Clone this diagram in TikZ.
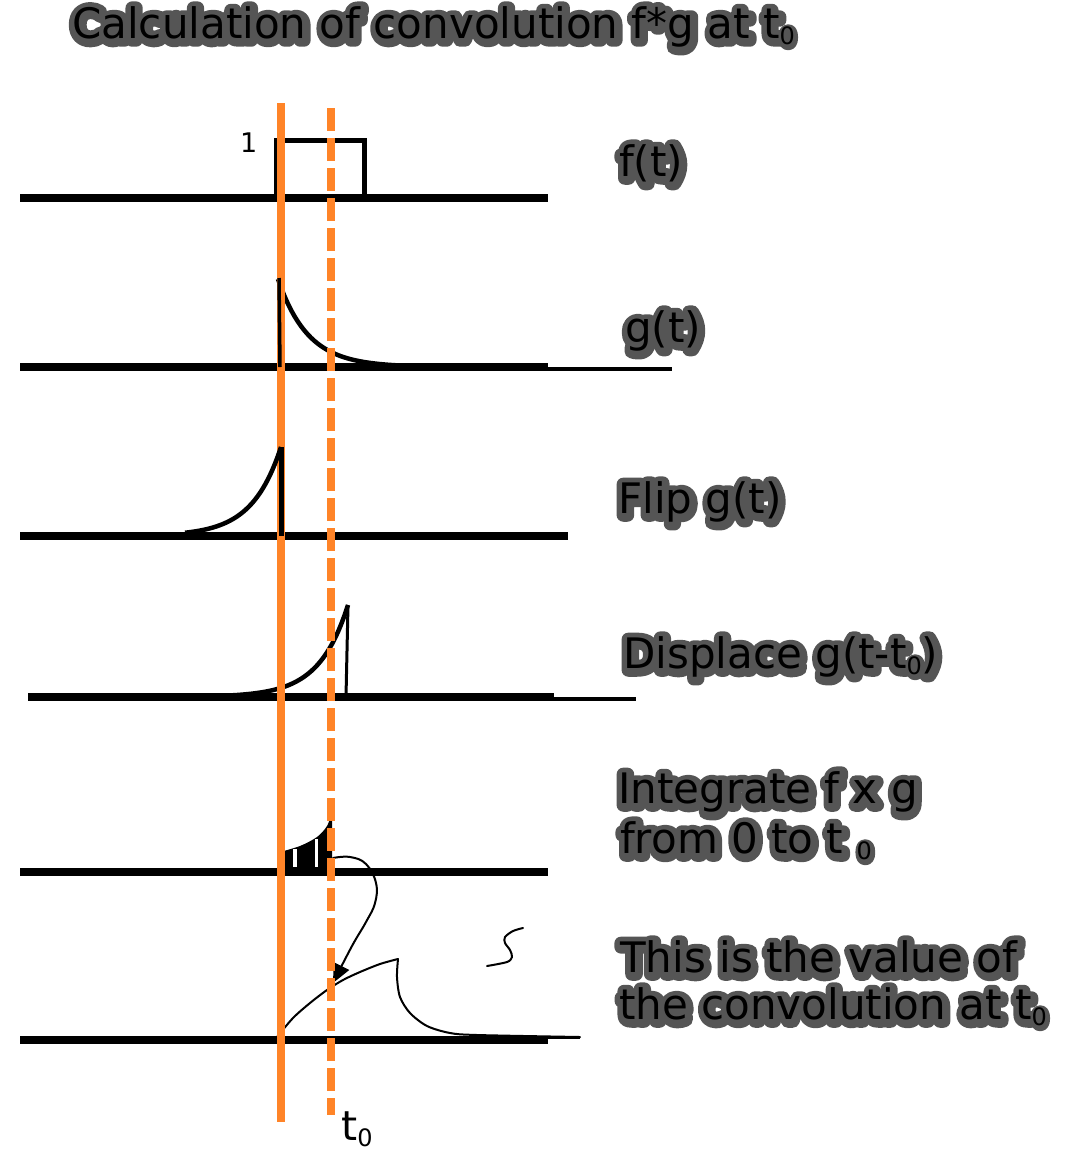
\documentclass[tikz,border=0pt]{standalone}
\usepackage{fontspec}
\setmainfont{DejaVu Sans}
\newfontfamily\halofont[FakeBold=32]{DejaVu Sans}
\usetikzlibrary{calc,arrows.meta}
\definecolor{orng}{RGB}{255,132,40}
\definecolor{halo}{RGB}{85,85,85}
\newcommand\sub[1]{\raisebox{-6pt}{\fontsize{24}{24}\selectfont #1}}
\newcommand\glowlbl[3]{%
  \node[lbl,text=halo,font=\fontsize{42}{50}\halofont] at ($(#2)+(1,2)$) {\special{pdf:literal direct 1 j 1 J}#3};
  \node[lbl] (#1) at (#2) {#3};}
\begin{document}
\begin{tikzpicture}[x=1pt,y=-1pt,
  lbl/.style={anchor=base west,inner sep=0pt,font=\fontsize{42}{50}\selectfont},
  axisline/.style={line width=7.5pt},
  axisext/.style={line width=3.5pt},
  sigcurve/.style={line width=4.5pt,line join=round},
  handline/.style={line width=2pt,line join=round,line cap=round},
  orangeline/.style={orng,line width=8pt}]
\useasboundingbox (0,0) rectangle (1085,1152);

% axes
\coordinate (a1l) at (20,198);  \coordinate (a1r) at (548,198);
\coordinate (a2l) at (20,367);  \coordinate (a2r) at (548,367);
\coordinate (a3l) at (20,536);  \coordinate (a3r) at (568,536);
\coordinate (a4l) at (28,697);  \coordinate (a4r) at (554,697);
\coordinate (a5l) at (20,872);  \coordinate (a5r) at (548,872);
\coordinate (a6l) at (20,1040); \coordinate (a6r) at (548,1040);
\foreach \i in {1,...,6}{\draw[axisline] (a\i l) -- (a\i r);}
\coordinate (e2) at (672,369); \draw[axisext] (548,369) -- (e2);
\coordinate (e4) at (636,699); \draw[axisext] (554,699) -- (e4);
\coordinate (e6) at (580,1038); \draw[line width=2.5pt] (548,1038) -- (e6);

% f(t) pulse
\draw[line width=5pt] (276.5,198) -- (276.5,140) -- (364.5,140) -- (364.5,198);
\node[anchor=base west,inner sep=0pt,font=\fontsize{27}{27}\selectfont] (one) at (240,152) {1};

% g(t)
\draw[sigcurve] plot[domain=278:440,samples=50] (\x,{367-88*exp(-(\x-278)/30)});

% displaced g
\draw[sigcurve] plot[domain=165:348,samples=60] (\x,{697-92*exp((\x-348)/29)});
\draw[line width=3pt] (348,605) -- (346,697);

% integrate region
\fill (280,872) -- plot[smooth] coordinates {(280,852) (300,846) (317,837) (327,826) (332,812)} -- (332,872) -- cycle;
\draw[white,line width=3.5pt] (295,849) -- (295,867);
\draw[white,line width=3.5pt] (316.5,839) -- (316.5,867);

% arrow
\coordinate (arrS) at (333,858);
\coordinate (arrE) at (333,983);
\draw[handline,-{Triangle[length=19pt,width=17pt]}] plot[smooth,tension=0.7] coordinates {(arrS) (350,857) (366,864) (376,883) (375,903) (366,922) (352,946) (arrE)};

% convolution result
\draw[handline] plot[smooth] coordinates {(277,1037) (293,1018) (310,1003) (327,990) (343,980) (360,972) (380,964) (398,959)};
\draw[handline] plot[smooth] coordinates {(398,959) (397,977) (400,997) (410,1013) (427,1026) (450,1033) (477,1035) (580,1037)};

% squiggle
\draw[handline] plot[smooth] coordinates {(523,928) (513,931) (505,937) (505,943) (510,950) (512,957) (507,962) (487,966)};

% orange markers
\coordinate (o1t) at (281,103); \coordinate (o1b) at (281,1122);
\coordinate (o2t) at (331,108); \coordinate (o2b) at (331,1115);
\draw[orangeline] (o1t) -- (o1b);
\draw[orangeline,dash pattern=on 23pt off 7pt] (o2t) -- (o2b);

% g(t) and flip on top
\draw[line width=3.5pt] (280,367) -- (279,278);
\draw[sigcurve] plot[domain=185:281,samples=50] (\x,{536-89*exp((\x-281)/29)});
\draw[line width=5pt] (281,447) -- (281,536);

% labels
\glowlbl{title}{72,38}{Calculation of convolution f*g at t\sub{0}}
\glowlbl{lf}{619,176}{f(t)}
\glowlbl{lg}{625,342}{g(t)}
\glowlbl{lflip}{618,513}{Flip g(t)}
\glowlbl{ldisp}{623,668}{Displace g(t-t\sub{0})}
\glowlbl{lint}{618,803}{Integrate f x g}
\glowlbl{lfrom}{620,853}{from 0 to t \sub{0}}
\glowlbl{lthis}{620,972}{This is the value of}
\glowlbl{lconv}{619,1019}{the convolution at t\sub{0}}

\node[anchor=base west,inner sep=0pt,font=\fontsize{41}{45}\selectfont] (tzero) at (341,1140) {t\sub{0}};
\end{tikzpicture}
\end{document}
